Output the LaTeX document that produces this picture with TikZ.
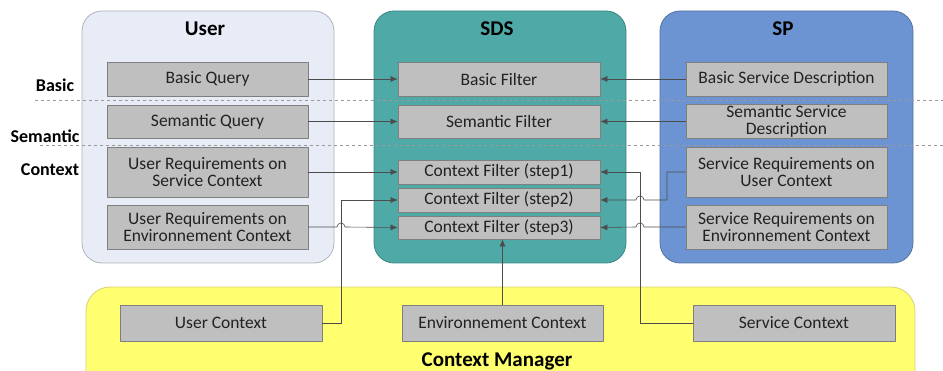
\documentclass[tikz,border=0pt]{standalone}
\usepackage{fontspec}
\setmainfont{Carlito}
\usetikzlibrary{arrows.meta}
\definecolor{userfill}{HTML}{E7ECF6}
\definecolor{userline}{HTML}{AEB3BC}
\definecolor{sdsfill}{HTML}{4FA9A6}
\definecolor{sdsline}{HTML}{3A8784}
\definecolor{spfill}{HTML}{6D94D2}
\definecolor{spline}{HTML}{52749F}
\definecolor{cmfill}{HTML}{FFFF70}
\definecolor{cmline}{HTML}{D6CF7C}
\definecolor{boxfill}{HTML}{BFBFBF}
\definecolor{boxline}{HTML}{7F7F7F}
\definecolor{txt}{HTML}{222222}
\tikzset{
  panel/.style={rounded corners=20pt, line width=0.8pt},
  item/.style={draw=boxline, fill=boxfill, line width=0.8pt, text=txt, align=center,
    inner sep=1pt, font=\fontsize{17.5}{17.5}\selectfont},
  title/.style={font=\fontsize{21}{23}\selectfont\bfseries, text=black},
  level/.style={font=\fontsize{18}{19}\selectfont\bfseries, text=black},
  sep/.style={dashed, draw=gray!80, line width=0.5pt},
  link/.style={draw=black!70, line width=0.6pt},
}
\begin{document}
\begin{tikzpicture}[x=1pt, y=-1pt, line join=round, >={Latex[length=7pt,width=6pt]}]
  \def \uw{201}
  \def \fw{202}
  \useasboundingbox (0,0) rectangle (943,371);
  % panels
  \draw[panel, fill=userfill, draw=userline] (82,11) rectangle (334,263);
  \draw[panel, fill=sdsfill, draw=sdsline] (374,11) rectangle (626,263);
  \draw[panel, fill=spfill, draw=spline] (660,11) rectangle (913,263);
  \begin{scope}
    \clip (0,0) rectangle (943,371);
    \draw[panel, rounded corners=24pt, fill=cmfill, draw=cmline] (86,287) rectangle (915,400);
  \end{scope}
  \node[title] (userT) at (205,29) {User};
  \node[title] (sdsT) at (497,29) {SDS};
  \node[title] (spT) at (783,29) {SP};
  \node[title] (cmT) at (497,361) {Context Manager};
  % levels
  \draw[sep] (35,100) -- (943,100);
  \draw[sep] (40,145) -- (943,145);
  \node[level] (lBasic) at (55,85) {Basic};
  \node[level] (lSem) at (45,136) {Semantic};
  \node[level] (lCtx) at (50,170) {Context};
  % user side
  \node[item, minimum width=\uw, minimum height=34] (uq1) at (207.5,79) {Basic Query};
  \node[item, minimum width=\uw, minimum height=33] (uq2) at (207.5,121.5) {Semantic Query};
  \node[item, minimum width=\uw, minimum height=50] (uq3) at (207.5,172) {User Requirements on\\Service Context};
  \node[item, minimum width=\uw, minimum height=44] (uq4) at (207.5,227) {User Requirements on\\Environnement Context};
  % filters
  \node[item, minimum width=\fw, minimum height=34] (f1) at (499,79) {Basic Filter};
  \node[item, minimum width=\fw, minimum height=33] (f2) at (499,121.5) {Semantic Filter};
  \node[item, minimum width=\fw, minimum height=24] (c1) at (499,172) {Context Filter (step1)};
  \node[item, minimum width=\fw, minimum height=24] (c2) at (499,200) {Context Filter (step2)};
  \node[item, minimum width=\fw, minimum height=23] (c3) at (499,227.5) {Context Filter (step3)};
  % provider side
  \node[item, minimum width=\uw, minimum height=34] (sp1) at (786.5,79) {Basic Service Description};
  \node[item, minimum width=\uw, minimum height=33] (sp2) at (786.5,121.5) {Semantic Service\\Description};
  \node[item, minimum width=\uw, minimum height=50] (sp3) at (786.5,172) {Service Requirements on\\User Context};
  \node[item, minimum width=\uw, minimum height=44] (sp4) at (786.5,227) {Service Requirements on\\Environnement Context};
  % context manager
  \node[item, minimum width=202, minimum height=36] (uc) at (221,323) {User Context};
  \node[item, minimum width=201, minimum height=36] (ec) at (502.5,323) {Environnement Context};
  \node[item, minimum width=202, minimum height=36] (sc) at (794,323) {Service Context};
  \coordinate (hopL) at (341,0);
  \coordinate (hopR) at (640,0);
  \coordinate (jogR) at (667,0);
  % links
  \draw[link, ->] (uq1.east) -- (f1.west);
  \draw[link, ->] (uq2.east) -- (f2.west);
  \draw[link, ->] (uq3.east) -- (c1.west);
  \draw[link, ->] (uq4.east) -- ([xshift=-4pt]hopL |- uq4.east) arc[start angle=180, end angle=0, radius=4pt] -- (c3.west);
  \draw[link, ->] (uc.east) -| (hopL |- c2.west) -- (c2.west);
  \draw[link, ->] (ec.north) -- (ec.north |- c3.south);
  \draw[link, ->] (sp1.west) -- (f1.east);
  \draw[link, ->] (sp2.west) -- (f2.east);
  \draw[link, ->] (sc.west) -| (hopR |- c1.east) -- (c1.east);
  \draw[link, ->] (sp3.west) -| (jogR |- c2.east) -- ([xshift=4pt]hopR |- c2.east) arc[start angle=0, end angle=180, radius=4pt] -- (c2.east);
  \draw[link, ->] (sp4.west) -- ([xshift=4pt]hopR |- sp4.west) arc[start angle=0, end angle=180, radius=4pt] -- (c3.east);
\end{tikzpicture}
\end{document}
